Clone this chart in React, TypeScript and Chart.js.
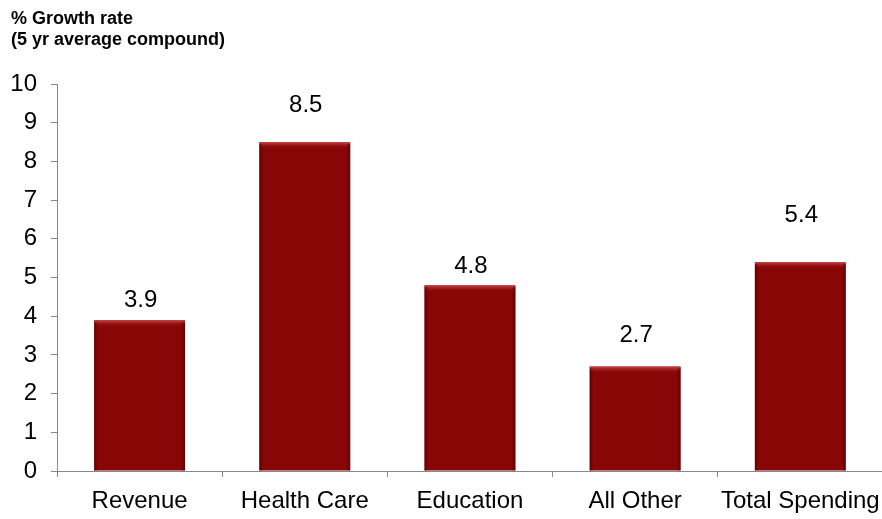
import React, { useEffect, useRef } from "react";
import { Chart, registerables } from "chart.js";

Chart.register(...registerables);

const categories = ["Revenue", "Health Care", "Education", "All Other", "Total Spending"];
const growthRates = [3.9, 8.5, 4.8, 2.7, 5.4];
const valueLabels = ["3.9", "8.5", "4.8", "2.7", "5.4"];
const yTicks = [0, 1, 2, 3, 4, 5, 6, 7, 8, 9, 10];
const titleLines = ["% Growth rate", "(5 yr average compound)"];

const FONT = "'Liberation Sans', Arial, sans-serif";

const bevelPlugin = {
  id: "bevel",
  afterDatasetsDraw(chart: any) {
    const ctx = chart.ctx;
    const meta = chart.getDatasetMeta(0);
    meta.data.forEach((bar: any) => {
      const { x, y, base, width } = bar.getProps(["x", "y", "base", "width"], true);
      const l = x - width / 2;
      const r = x + width / 2;
      ctx.save();
      const g = ctx.createLinearGradient(0, y, 0, y + 6);
      g.addColorStop(0, "rgba(205,75,75,0.95)");
      g.addColorStop(1, "rgba(160,30,30,0)");
      ctx.fillStyle = g;
      ctx.fillRect(l, y, width, 6);
      const gl = ctx.createLinearGradient(l, 0, l + 4, 0);
      gl.addColorStop(0, "rgba(85,0,0,0.75)");
      gl.addColorStop(1, "rgba(85,0,0,0)");
      ctx.fillStyle = gl;
      ctx.fillRect(l, y + 2, 4, base - y - 2);
      const gr = ctx.createLinearGradient(r, 0, r - 4, 0);
      gr.addColorStop(0, "rgba(85,0,0,0.75)");
      gr.addColorStop(1, "rgba(85,0,0,0)");
      ctx.fillStyle = gr;
      ctx.fillRect(r - 4, y + 2, 4, base - y - 2);
      ctx.restore();
    });
  },
};

const valueLabelPlugin = {
  id: "valueLabels",
  afterDatasetsDraw(chart: any, _args: any, opts: any) {
    const ctx = chart.ctx;
    const meta = chart.getDatasetMeta(0);
    ctx.save();
    ctx.font = `24px ${FONT}`;
    ctx.fillStyle = "#000";
    ctx.textAlign = "center";
    ctx.textBaseline = "middle";
    meta.data.forEach((bar: any, i: number) => {
      const off = (opts.offsets && opts.offsets[i]) || 20;
      ctx.fillText(valueLabels[i], bar.x + 1, bar.y - off);
    });
    ctx.restore();
  },
};

const titlePlugin = {
  id: "leftTitle",
  afterDraw(chart: any) {
    const ctx = chart.ctx;
    ctx.save();
    ctx.font = `bold 18px ${FONT}`;
    ctx.fillStyle = "#000";
    ctx.textAlign = "left";
    ctx.textBaseline = "middle";
    titleLines.forEach((t, i) => ctx.fillText(t, 11, 19 + i * 21));
    ctx.restore();
  },
};

export default function App() {
  const ref = useRef<HTMLCanvasElement>(null);
  useEffect(() => {
    document.body.style.overflow = "hidden";
    const chart = new Chart(ref.current!, {
      type: "bar",
      data: {
        labels: categories,
        datasets: [
          {
            data: growthRates,
            backgroundColor: "#880606",
            borderWidth: 0,
            barPercentage: 0.55,
            categoryPercentage: 1,
          },
        ],
      },
      plugins: [bevelPlugin, valueLabelPlugin, titlePlugin],
      options: {
        animation: false,
        responsive: false,
        maintainAspectRatio: false,
        events: [],
        layout: { padding: { top: 84, right: 3, left: 0, bottom: 0 } },
        plugins: {
          legend: { display: false },
          tooltip: { enabled: false },
          valueLabels: { offsets: [20, 37, 19, 31, 47] },
        } as any,
        scales: {
          x: {
            offset: true,
            grid: {
              offset: true,
              drawOnChartArea: false,
              drawTicks: true,
              tickLength: 6,
              color: "#888",
            },
            border: { color: "#888", width: 1 },
            ticks: {
              color: "#000",
              font: { family: FONT, size: 24 },
              padding: 10,
              maxRotation: 0,
              autoSkip: false,
            },
            afterFit: (s: any) => {
              s.height = 48;
            },
          },
          y: {
            min: 0,
            max: 10,
            afterBuildTicks: (s: any) => {
              s.ticks = yTicks.map((v) => ({ value: v }));
            },
            grid: {
              drawOnChartArea: false,
              drawTicks: true,
              tickLength: 6,
              color: "#888",
            },
            border: { color: "#888", width: 1 },
            ticks: {
              color: "#000",
              font: { family: FONT, size: 24 },
              padding: 14,
            },
            afterFit: (s: any) => {
              s.width = 57;
            },
          },
        },
      },
    });
    return () => chart.destroy();
  }, []);
  return (
    <div style={{ position: "fixed", left: 0, top: 0, width: 890, height: 519, background: "#fff" }}>
      <canvas ref={ref} width={890} height={519} style={{ display: "block", width: 890, height: 519 }} />
    </div>
  );
}
